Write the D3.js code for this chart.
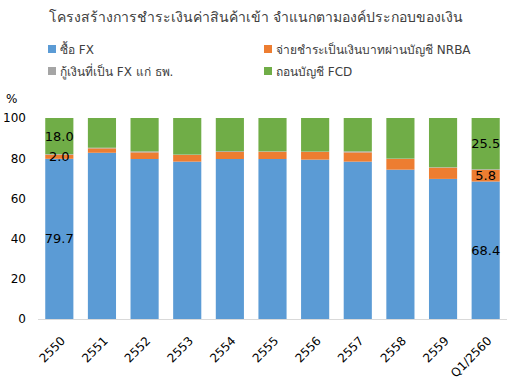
<!DOCTYPE html>
<html><head><meta charset="utf-8">
<script src="https://cdn.jsdelivr.net/npm/d3@7"></script>
<style>body{margin:0;background:#fff}svg{display:block}text{font-family:Tahoma,"DejaVu Sans","Noto Sans",sans-serif}</style>
</head><body><svg id="c" width="512" height="380"></svg>
<script>
const categories = ["2550","2551","2552","2553","2554","2555","2556","2557","2558","2559","Q1/2560"];
const seriesNames = ["ซื้อ FX","จ่ายชำระเป็นเงินบาทผ่านบัญชี NRBA","กู้เงินที่เป็น FX แก่ ธพ.","ถอนบัญชี FCD"];
const buyFX   = [79.7, 82.7, 79.6, 78.3, 79.6, 79.6, 79.3, 78.3, 74.3, 69.7, 68.4];
const nrba    = [2.0, 2.2, 3.3, 3.3, 3.5, 3.6, 3.8, 4.6, 5.3, 5.6, 5.8];
const loanFX  = [0.3, 0.3, 0.5, 0.2, 0.4, 0.2, 0.2, 0.5, 0.2, 0.2, 0.3];
const fcd     = [18.0, 14.8, 16.6, 18.2, 16.5, 16.6, 16.7, 16.6, 20.2, 24.5, 25.5];
const yTicks  = [0,20,40,60,80,100];
const colors  = ["#5B9BD5","#ED7D31","#A5A5A5","#70AD47"];
const labelled = {0:[0,1,3], 10:[0,1,3]};

const svg = d3.select("#c");
const x = d3.scaleBand().domain(categories).range([38,507]).paddingInner(0.34).paddingOuter(0.17);
const y = d3.scaleLinear().domain([0,100]).range([319,118]);

svg.append("text").attr("x",256).attr("y",22).attr("text-anchor","middle")
  .attr("font-size",14).attr("fill","#404040").text("โครงสร้างการชำระเงินค่าสินค้าเข้า จำแนกตามองค์ประกอบของเงิน");

const legPos = [[48,49],[264,49],[48,71],[264,71]];
seriesNames.forEach((n,i)=>{
  const g = svg.append("g").attr("transform",`translate(${legPos[i][0]},${legPos[i][1]})`);
  g.append("rect").attr("x",0).attr("y",-4).attr("width",8).attr("height",8).attr("fill",colors[i]);
  g.append("text").attr("x",12).attr("y",4.5).attr("font-size",12).attr("fill","#404040").text(n);
});

svg.append("text").attr("x",6).attr("y",103).attr("font-size",12).attr("fill","#000").text("%");

const rows = categories.map((c,i)=>({cat:c, s0:buyFX[i], s1:nrba[i], s2:loanFX[i], s3:fcd[i]}));
const stack = d3.stack().keys(["s0","s1","s2","s3"])(rows);

stack.forEach((layer,k)=>{
  svg.append("g").selectAll("rect").data(layer).join("rect")
    .attr("x",d=>x(d.data.cat)).attr("width",x.bandwidth())
    .attr("y",d=>y(d[1])).attr("height",d=>y(d[0])-y(d[1]))
    .attr("fill",colors[k]);
});

Object.keys(labelled).forEach(ci=>{
  labelled[ci].forEach(k=>{
    const d = stack[k][ci];
    svg.append("text").attr("x",x(categories[ci])+x.bandwidth()/2).attr("y",y((d[0]+d[1])/2)+4.5)
      .attr("text-anchor","middle").attr("font-size",13).attr("fill","#000")
      .text(d3.format(".1f")(d[1]-d[0]));
  });
});

const ya = svg.append("g").attr("transform","translate(38,0)")
  .call(d3.axisLeft(y).tickValues(yTicks).tickSize(0).tickPadding(12));
ya.select(".domain").remove();
ya.selectAll("text").attr("font-size",12).attr("fill","#000");

const xa = svg.append("g").attr("transform","translate(0,319)")
  .call(d3.axisBottom(x).tickSize(0).tickPadding(8));
xa.select(".domain").attr("stroke","#D9D9D9").attr("d","M38,0.5H507");
xa.selectAll("text").attr("font-size",12).attr("fill","#000")
  .attr("text-anchor","end").attr("dy","0.35em")
  .attr("transform","translate(-2,14) rotate(-45)");
</script></body></html>
